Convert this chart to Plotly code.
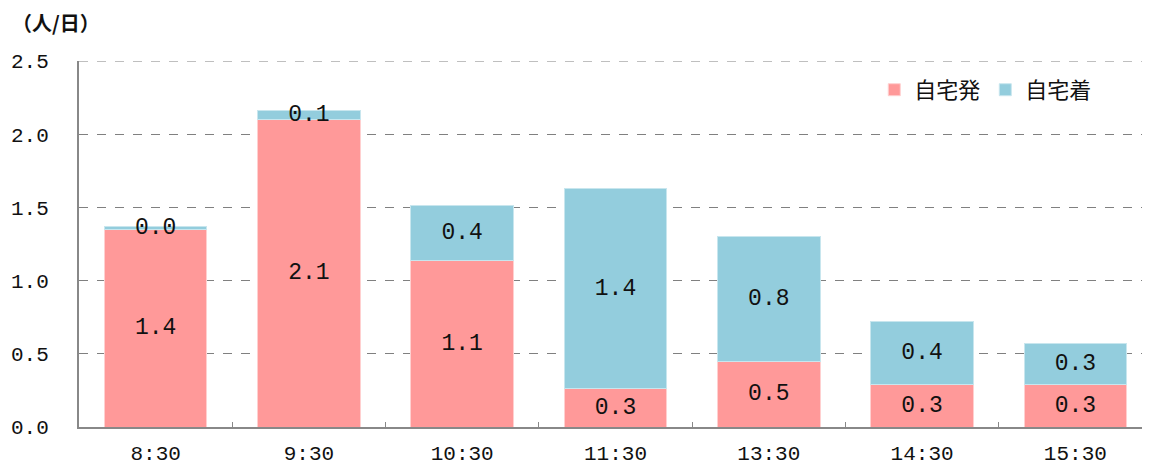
import plotly.graph_objects as go

# time slots and values (人/日)
times = ["8:30", "9:30", "10:30", "11:30", "13:30", "14:30", "15:30"]
depart_home = [1.35, 2.10, 1.14, 0.26, 0.45, 0.29, 0.29]   # 自宅発
arrive_home = [0.02, 0.065, 0.37, 1.37, 0.85, 0.43, 0.28]  # 自宅着

num_font = "Liberation Mono"
jp_font = "Noto Sans CJK JP"

fig = go.Figure()
fig.add_trace(go.Bar(
    x=times, y=depart_home, name="自宅発",
    marker=dict(color="#FF9999", line=dict(color="#FFD0D0", width=1)),
    texttemplate="%{y:.1f}",
    textposition="inside", insidetextanchor="middle", constraintext="none",
    textfont=dict(family=num_font, size=23, color="#111111"),
))
fig.add_trace(go.Bar(
    x=times, y=arrive_home, name="自宅着",
    marker=dict(color="#93CDDD", line=dict(color="#C8E6EE", width=1)),
    texttemplate="%{y:.1f}",
    textposition="inside", insidetextanchor="middle", constraintext="none",
    textfont=dict(family=num_font, size=23, color="#111111"),
))

# the page body adds an 8px offset, so margins are shifted to compensate
fig.update_layout(
    barmode="stack",
    bargap=0.33,
    width=1150, height=470,
    margin=dict(l=71, r=6, t=53, b=51, autoexpand=False),
    plot_bgcolor="white", paper_bgcolor="white",
    font=dict(family=num_font, size=21, color="#111111"),
    legend=dict(
        orientation="h", traceorder="normal",
        x=0.949, y=0.921, xanchor="right", yanchor="middle",
        font=dict(family=jp_font, size=22, color="#111111"),
        itemwidth=30, bgcolor="rgba(0,0,0,0)",
    ),
    annotations=[dict(
        text="（人/日）", x=-69 / 1073, y=1 + 39 / 366,
        xref="paper", yref="paper",
        showarrow=False, xanchor="left", yanchor="middle",
        font=dict(family=jp_font, size=20, color="#111111", weight=600),
    )],
)

fig.update_yaxes(
    range=[0, 2.5], dtick=0.5, tickformat=".1f",
    showgrid=True, gridcolor="#808080", griddash="dash", gridwidth=1,
    showline=True, linecolor="#888888", linewidth=2,
    ticks="", ticklabelstandoff=24, zeroline=False,
)
fig.update_xaxes(
    showline=True, linecolor="#888888", linewidth=2,
    ticks="inside", tickson="boundaries", ticklen=5, tickcolor="#888888",
    ticklabelstandoff=6,
)
# dashed top border at 2.5
fig.add_hline(y=2.5, line=dict(color="#808080", width=1, dash="dash"))

fig.write_html("out.html")
